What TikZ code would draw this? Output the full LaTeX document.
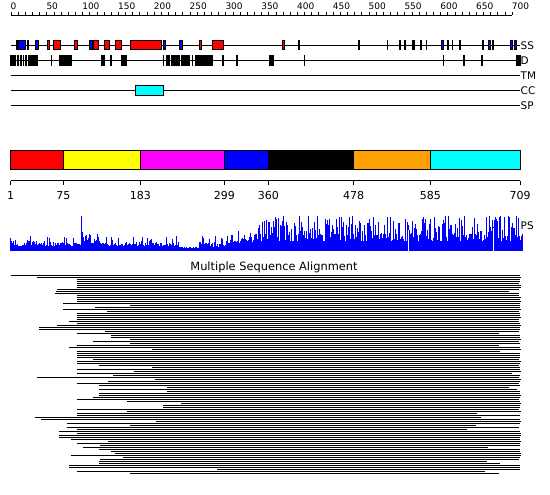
\documentclass[tikz,border=0pt]{standalone}
\usepackage{fontspec}
\setmainfont{DejaVu Sans}
\definecolor{psblue}{RGB}{0,0,255}
\definecolor{dorange}{RGB}{255,160,0}
\definecolor{dcyan}{RGB}{0,255,255}
\definecolor{dmagenta}{RGB}{255,0,255}
\definecolor{dyellow}{RGB}{255,255,0}
\definecolor{dred}{RGB}{255,0,0}
\definecolor{dblue}{RGB}{0,0,255}
\begin{document}
\begin{tikzpicture}[x=1pt,y=-1pt,
  trk/.style={draw=black,line width=1pt},
  fbox/.style={draw=black,line width=1pt},
  rowlab/.style={font=\fontsize{10.5}{12}\selectfont,anchor=west,inner sep=0pt},
  rulelab/.style={font=\fontsize{9}{10}\selectfont,anchor=base west,inner sep=0pt},
  domlab/.style={font=\fontsize{11}{12}\selectfont,anchor=base,inner sep=0pt},
  titlab/.style={font=\fontsize{11.4}{13}\selectfont,anchor=base,inner sep=0pt},
  psbar/.style={fill=psblue},
  aln/.style={line width=1pt}]
\pgfmathsetseed{42}
\useasboundingbox (0,0) rectangle (550,495);
\fill[white] (0,0) rectangle (550,495);

% ---------- ruler ----------
\draw[trk] (11,15.5) -- (512.2,15.5);
\foreach \u in {0,10,...,700} \draw[line width=0.8pt] ({11+0.716*\u},12) -- ({11+0.716*\u},15.5);
\foreach \u in {0,50,...,700} \node[rulelab] (r\u) at ({11+0.716*\u-0.5},10) {\u};

% ---------- tracks ----------
\foreach \yy/\nm/\tx in {45.5/ss/SS,60.5/dd/D,75.5/tm/TM,90.5/cc/CC,105.5/sp/SP}{
  \draw[trk] (11,\yy) -- (520,\yy);
  \node[rowlab] (\nm) at (520.5,\yy) {\tx};
}

% SS features
\foreach \a/\b/\c in {16/18/dred,18/26/dblue,27.3/28.9/black,35.3/38.7/dblue,47.3/49.7/dred,
  53.3/61.3/dred,74/77.7/dred,89.3/92.7/dblue,92.7/99.3/dred,104.3/110.3/dred,115.3/122.3/dred,
  130/161.7/dred,162.7/165.7/dblue,179/182.7/dblue,199/201.7/dred,212.3/224/dred,282.3/285/dred,
  298.3/299.9/black,358.3/359.9/black,386.7/388.3/black,398.7/400.7/dblue,403.7/405.7/dblue,
  412/415.3/black,420/421.7/dblue,425.7/427.3/black,440.7/444.3/dblue,447/448.6/black,
  451.7/453.3/black,459.3/460.9/black,482.3/484.3/dblue,488.3/491/dblue,491.7/494.3/dblue,
  510/513.3/dblue,513.7/517/dblue}
  \filldraw[fbox,fill=\c] ({\a+0.5},40.8) rectangle ({\b-0.5},49.8);

% D features
\foreach \a/\b in {10/15.7,17.3/19,20/21.7,22.7/24,25.3/26.7,28/37.7,51/52,59/71.7,101/105,
  110/111.7,121/127,163/164,166/170,171/180,181/190,192/193.3,195/212.7,222/223.7,236/237.7,
  269.3/274,304/305,443.3/444.3,463.3/465,481/482.7,515.7/521}
  \fill[black] (\a,55.3) rectangle (\b,65.7);

% CC feature
\filldraw[fbox,fill=dcyan] (135.8,85.8) rectangle (163.2,95.2);

% ---------- domain bar ----------
\foreach \a/\b/\c in {10.5/63.3/dred,63.3/140.3/dyellow,140.3/224.3/dmagenta,224.3/268.3/dblue,
  268.3/353.7/black,353.7/430.3/dorange,430.3/520.2/dcyan}
  \filldraw[fbox,fill=\c] (\a,150.8) rectangle (\b,169.8);
\draw[trk] (10.5,180.8) -- (520.2,180.8);
\foreach \xx/\lb in {10.5/1,63.3/75,140.3/183,224.3/299,268.3/360,353.7/478,430.3/585,520.2/709}{
  \draw[trk] (\xx,180.8) -- (\xx,185.5);
  \node[domlab] (d\lb) at (\xx,199.5) {\lb};
}

% ---------- PS profile (bars, 1 px wide) ----------
\fill[psblue] (10,248.5) rectangle (523,251);
\foreach \x in {10,...,80} \fill[psbar] (\x,251) rectangle ({\x+1},{250.5-4-4*rnd-10*pow(rnd,6)});
\fill[psbar] (81,251) rectangle (82,216);
\foreach \x in {82,...,100} \fill[psbar] (\x,251) rectangle ({\x+1},{250.5-6-8*rnd-10*pow(rnd,3)});
\foreach \x in {101,...,178} \fill[psbar] (\x,251) rectangle ({\x+1},{250.5-4-4*rnd-9*pow(rnd,6)});
\foreach \x in {179,...,198} \fill[psbar] (\x,251) rectangle ({\x+1},{250.5-2-2.5*rnd});
\foreach \x in {199,...,225} \fill[psbar] (\x,251) rectangle ({\x+1},{250.5-3-6*rnd-9*pow(rnd,4)});
\foreach \x in {226,...,270} \fill[psbar] (\x,251) rectangle ({\x+1},{250.5-4-(6+22*pow(rnd,1.5))*(\x-200)/70});
\foreach \x in {271,...,522} \fill[psbar] (\x,251) rectangle ({\x+1},{250.5-9-26*pow(rnd,1.4)});
\fill[white] (408,251) rectangle (409,230);
\fill[white] (493,251) rectangle (494,228);
\node[rowlab] (ps) at (520.5,225.5) {PS};

% ---------- MSA ----------
\node[titlab] (msa) at (274,270) {Multiple Sequence Alignment};
\foreach \s/\e [count=\k from 0] in {10.7/520,37.3/521,76.7/519.5,76.7/520,76.7/519,76.7/521,
  76.7/520.5,57.3/519,56/509.3,55.3/519,76.7/518.7,76.7/520.5,76.7/520,76.7/521,63.3/520,
  130/519.5,95.3/520,63.3/521,107.3/519,76.7/520,76.7/519.5,76.7/520.5,76.7/519,69.3/518.5,
  76.7/520,56.7/521,39.3/519.5,39.3/520,105.3/519,76.7/499,111.3/520,111.3/519.5,130/520.5,
  92.7/519,130/520,76.7/498.7,69.3/520,152/521,76.7/500,76.7/520,76.7/519.5,76.7/520,
  92.7/519,76.7/520.5,76.7/520,98.7/519,152/520,76.7/519.5,134/520.5,76.7/512,113.3/520,
  37.3/519,155.3/520.5,108/520,76.7/519,99.3/520,167.3/509,98.7/517,167.3/520,98.7/519.5,
  98.7/520.5,92.7/520,76.7/519,127.3/520,181.3/520.5,163.3/519.5,163.3/520,76.7/519,
  127.3/520.5,76.7/476.7,76.7/520,34.7/481,40.7/519.5,156/521,67.3/520,130/476,67.3/519,
  76.7/466.7,58.7/520,77.3/521,58.7/520.5,58.7/520,70.7/519.5,108/521,77.3/520,100/519.5,
  82.7/488,98.7/520,111.3/519.5,115.3/521,70.7/520.5,123.3/520,100/519,98.7/486.7,98.7/499.5,
  68.7/520,68.7/519.5,217.3/520,76.7/484.5,130/498.5}
  \draw[aln] (\s,{275+2*\k}) -- (\e,{275+2*\k});
\end{tikzpicture}
\end{document}
